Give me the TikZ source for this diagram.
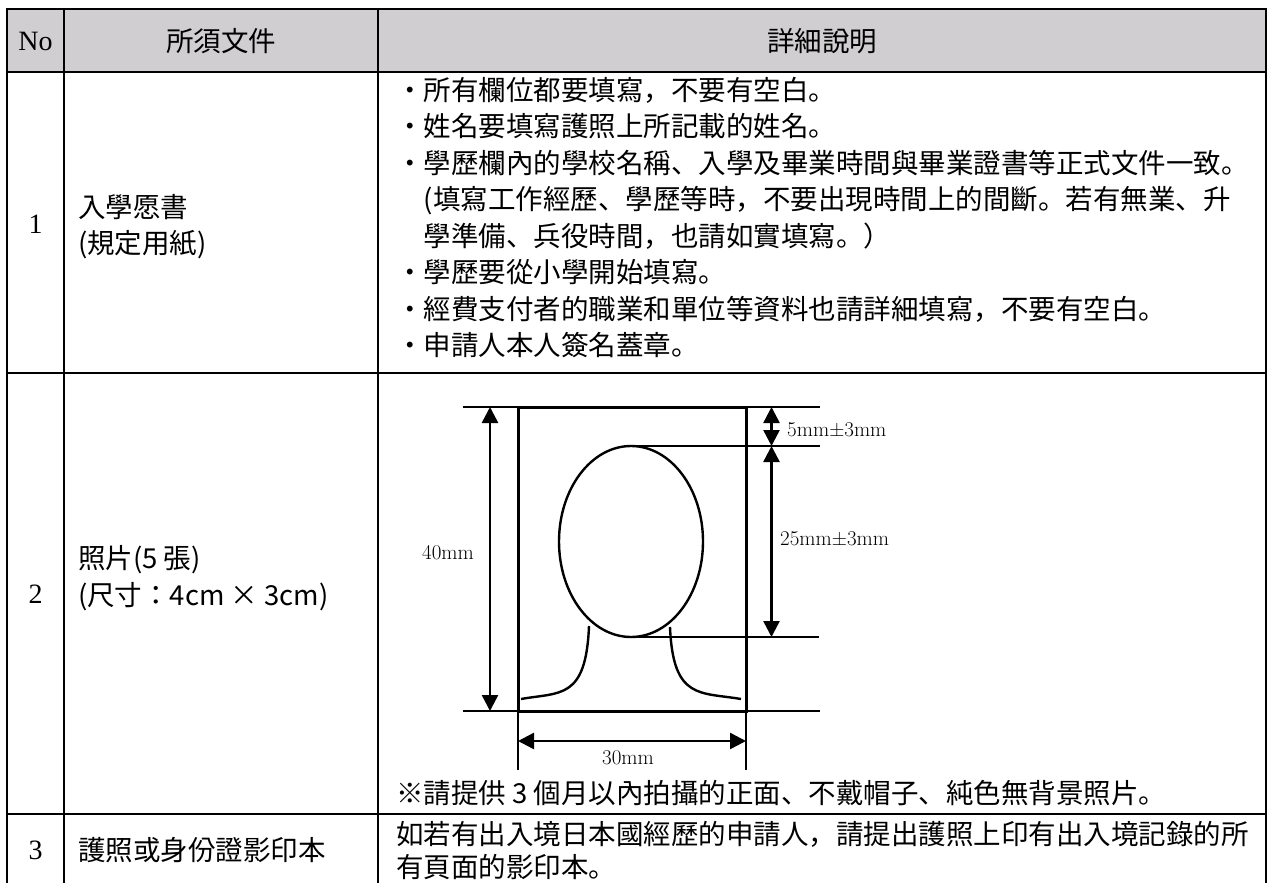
\documentclass[tikz,border=0pt]{standalone}
\usepackage{fontspec}
\newfontfamily\jpfont{Noto Sans CJK JP}
\newfontfamily\nofont{Liberation Serif}
\usetikzlibrary{arrows.meta}
\definecolor{headgray}{RGB}{208,206,208}

\begin{document}
\begin{tikzpicture}[x=1pt, y=-1pt,
        rule/.style={line width=2.2pt},
        thinrule/.style={line width=1.2pt},
        cjk/.style={inner sep=0pt, text height=24pt, text depth=3.5pt, font=\jpfont\fontsize{27.5}{36}\selectfont},
        num/.style={inner sep=0pt, font=\nofont\fontsize{28}{30}\selectfont},
        dimlabel/.style={inner sep=0pt, font=\fontsize{21}{24}\selectfont},
        dimarrow/.style={line width=2.5pt, {Triangle[width=16pt,length=16pt]}-{Triangle[width=16pt,length=16pt]}}]
        \useasboundingbox (0,0) rectangle (1271,883);

        \fill[headgray] (7,9) rectangle (1266,72);
        \draw[rule] (7,883) -- (7,9) -- (1266,9) -- (1266,883);
        \foreach \y in {72, 373, 814} {
            \draw[rule] (7,\y) -- (1266,\y);
        }
        \foreach \x in {64, 378} {
            \draw[rule] (\x,9) -- (\x,883);
        }

        \node[num] (hno) at (35.5,41) {No};
        \node[cjk] (hdoc) at (221,41) {所須文件};
        \node[cjk] (hdesc) at (822,41) {詳細說明};

        \node[num] (no1) at (35.5,224) {1};
        \node[cjk, anchor=west] (doc1a) at (78,207) {入學愿書};
        \node[cjk, anchor=west] (doc1b) at (78,243) {(規定用紙)};
        \foreach \x/\txt [count=\i] in {396/{・所有欄位都要填寫，不要有空白。},
                396/{・姓名要填寫護照上所記載的姓名。},
                396/{・學歷欄內的學校名稱、入學及畢業時間與畢業證書等正式文件一致。},
                423.5/{(填寫工作經歷、學歷等時，不要出現時間上的間斷。若有無業、升},
                423.5/{學準備、兵役時間，也請如實填寫。）},
                396/{・學歷要從小學開始填寫。},
                396/{・經費支付者的職業和單位等資料也請詳細填寫，不要有空白。},
                396/{・申請人本人簽名蓋章。}} {
            \node[cjk, anchor=west] (desc1-\i) at (\x, 53.5+36.5*\i) {\txt};
        }

        \node[num] (no2) at (35.5,594) {2};
        \node[cjk, anchor=west] (doc2a) at (78,558) {照片(5 張)};
        \node[cjk, anchor=west] (doc2b) at (78,595) {(尺寸：4cm × 3cm)};

        \foreach \y/\xa/\xb in {407/463/820, 446/631/820, 637/631/819, 711/463/820} {
            \draw[thinrule] (\xa,\y) -- (\xb,\y);
        }
        \draw[thinrule] (518,711) -- (518,770);
        \draw[thinrule] (746,711) -- (746,770);
        \draw[line width=3pt] (518,407) rectangle (746,711);
        \draw[line width=2.4pt] (631,541.5) ellipse [x radius=72, y radius=95.5];
        \draw[line width=2.4pt] (589,626) .. controls (586,700) and (560,692) .. (521,699);
        \draw[line width=2.4pt] (670,627) .. controls (673,700) and (700,692) .. (741,699);

        \draw[dimarrow] (490,407) -- (490,711);
        \draw[dimarrow] (771.5,407) -- (771.5,446);
        \draw[dimarrow] (771.5,446) -- (771.5,637);
        \draw[dimarrow] (518,741) -- (746,741);

        \node[dimlabel] (l40) at (448,553) {40mm};
        \node[dimlabel, anchor=west] (l5) at (787,430) {5mm±3mm};
        \node[dimlabel, anchor=west] (l25) at (780,539) {25mm±3mm};
        \node[dimlabel] (l30) at (628,758) {30mm};
        \node[cjk, anchor=west] (note2) at (396,793) {※請提供 3 個月以內拍攝的正面、不戴帽子、純色無背景照片。};

        \node[num] (no3) at (35.5,850) {3};
        \node[cjk, anchor=west] (doc3) at (78,850) {護照或身份證影印本};
        \node[cjk, anchor=west] (desc3a) at (396,834) {如若有出入境日本國經歷的申請人，請提出護照上印有出入境記錄的所};
        \node[cjk, anchor=west] (desc3b) at (396,867) {有頁面的影印本。};
\end{tikzpicture}
\end{document}
